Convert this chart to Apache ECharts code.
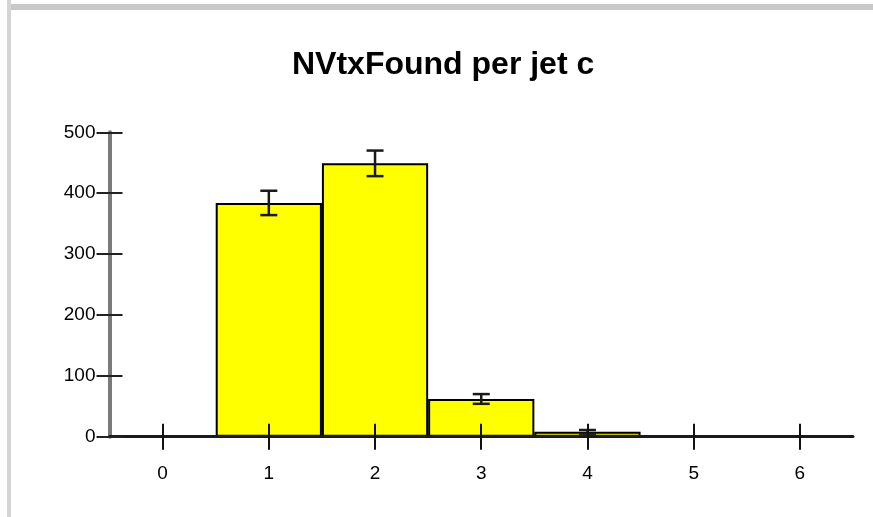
<!DOCTYPE html>
<html>
<head>
<meta charset="utf-8">
<script src="https://cdn.jsdelivr.net/npm/echarts@6/dist/echarts.min.js"></script>
<style>
html,body{margin:0;padding:0;background:#fff;}
#c{width:873px;height:517px;}
</style>
</head>
<body>
<div id="c"></div>
<script>
var titleText = 'NVtxFound per jet c';
var categories = ['0', '1', '2', '3', '4', '5', '6'];
var counts = [0, 384, 449, 62, 8, 0, 0];
var errors = [0, 20, 21, 8, 3, 0, 0];
var yTicks = [0, 100, 200, 300, 400, 500];

var errData = categories.map(function (c, i) {
  return [i, counts[i] - errors[i], counts[i] + errors[i], errors[i]];
});

var chart = echarts.init(document.getElementById('c'), null, {renderer: 'canvas'});
var font = 'Liberation Sans, Arial, Helvetica, sans-serif';
chart.setOption({
  animation: false,
  backgroundColor: '#ffffff',
  title: {
    text: titleText,
    left: 287,
    top: 44,
    textStyle: {fontFamily: font, fontSize: 32, fontWeight: 'bold', color: '#000'}
  },
  graphic: [
    {type: 'rect', shape: {x: 7, y: 0, width: 4, height: 517}, style: {fill: '#d4d4d4'}, z: 100},
    {type: 'rect', shape: {x: 11, y: 4, width: 862, height: 6}, style: {fill: '#c8c8c8'}, z: 100}
  ],
  grid: {left: 109.5, right: 20, top: 132.3, bottom: 80.3},
  xAxis: [
    {
      type: 'category', data: categories, position: 'bottom', z: 10,
      boundaryGap: true,
      axisLine: {show: true, onZero: false, lineStyle: {color: '#1a1a1a', width: 3}},
      axisTick: {show: true, alignWithLabel: true, inside: false, length: 13, lineStyle: {color: '#111', width: 2}},
      axisLabel: {margin: 28, fontFamily: font, fontSize: 19, color: '#000'},
      splitLine: {show: false}
    },
    {
      type: 'category', data: categories, position: 'bottom', z: 10,
      boundaryGap: true,
      axisLine: {show: false, onZero: false},
      axisTick: {show: true, alignWithLabel: true, inside: true, length: 13, lineStyle: {color: '#111', width: 2}},
      axisLabel: {show: false},
      splitLine: {show: false}
    }
  ],
  yAxis: [
    {
      type: 'value', min: yTicks[0], max: yTicks[yTicks.length - 1], interval: 100, position: 'left', z: 10,
      axisLine: {show: true, onZero: false, lineStyle: {color: '#7a7a7a', width: 4}},
      axisTick: {show: true, inside: false, length: 13, lineStyle: {color: '#222', width: 2}},
      axisLabel: {margin: 14, fontFamily: font, fontSize: 19, color: '#000'},
      splitLine: {show: false}
    },
    {
      type: 'value', min: yTicks[0], max: yTicks[yTicks.length - 1], interval: 100, position: 'left', z: 10,
      axisLine: {show: false, onZero: false},
      axisTick: {show: true, inside: true, length: 13, lineStyle: {color: '#222', width: 2}},
      axisLabel: {show: false},
      splitLine: {show: false}
    }
  ],
  series: [
    {
      type: 'bar', data: counts, xAxisIndex: 0, yAxisIndex: 0,
      barCategoryGap: '0%', barWidth: '100%',
      itemStyle: {color: '#ffff00', borderColor: '#000', borderWidth: 2},
      z: 2
    },
    {
      type: 'custom', xAxisIndex: 0, yAxisIndex: 0, z: 3,
      data: errData,
      renderItem: function (params, api) {
        if (api.value(3) <= 0) return null;
        var lo = api.coord([api.value(0), api.value(1)]);
        var hi = api.coord([api.value(0), api.value(2)]);
        var hw = 8.5;
        var st = {stroke: '#1a1a1a', lineWidth: 2.5};
        return {
          type: 'group',
          children: [
            {type: 'line', shape: {x1: lo[0], y1: lo[1], x2: hi[0], y2: hi[1]}, style: st},
            {type: 'line', shape: {x1: lo[0] - hw, y1: lo[1], x2: lo[0] + hw, y2: lo[1]}, style: st},
            {type: 'line', shape: {x1: hi[0] - hw, y1: hi[1], x2: hi[0] + hw, y2: hi[1]}, style: st}
          ]
        };
      }
    }
  ]
});
</script>
</body>
</html>
